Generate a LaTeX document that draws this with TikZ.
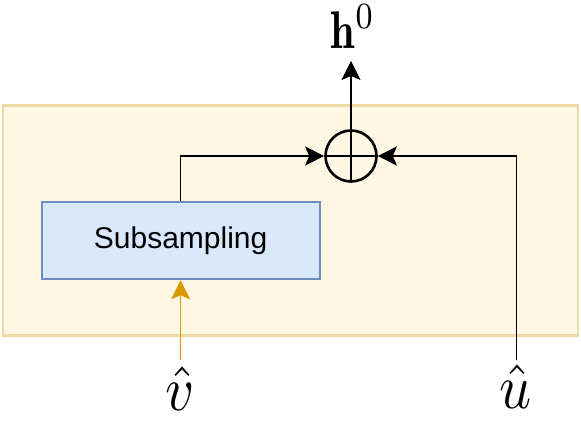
\documentclass[tikz,border=0pt]{standalone}
\usepackage{amsmath}
\usepackage{fontspec}
\newfontfamily\boxfont{Liberation Sans}
\usetikzlibrary{arrows.meta}

\begin{document}
\begin{tikzpicture}[x=1pt,y=-1pt]
				\definecolor{cfo}{rgb}{1.0,0.969,0.894}
				\definecolor{cvo}{rgb}{0.933,0.859,0.643}
				\definecolor{cfs}{rgb}{0.855,0.910,0.988}
				\definecolor{cvs}{rgb}{0.424,0.557,0.749}
				\definecolor{cvv}{rgb}{0.843,0.608,0.0}
				\tikzset{
					tip/.style={-{Stealth[length=19pt,width=19pt,inset=4pt]}},
					mathlabel/.style={inner sep=0pt,anchor=base},
				}
				\useasboundingbox (0,0) rectangle (581,423);
				%
				\node[draw=cvo,fill=cfo,line width=2.2pt,minimum width=575.5pt,minimum height=230pt,inner sep=0pt] (frame) at (290.5,220.5) {};
				\node[draw=cvs,fill=cfs,line width=2pt,minimum width=278pt,minimum height=77.5pt,inner sep=0pt,font=\boxfont\fontsize{30}{36}\selectfont] (sub) at (180.6,240.5) {Subsampling};
				\node[draw,circle,line width=2.6pt,minimum size=51pt,inner sep=0pt] (plus) at (351,156) {};
				\draw[line width=2.3pt] (plus.north) -- (plus.south) (plus.west) -- (plus.east);
				\node[mathlabel] (h0) at (353,48) {\scalebox{4.4}[5.3]{$\mathbf{h}^0$}};
				\node[mathlabel] (vh) at (180.5,410) {\scalebox{5.6}[6.3]{$\hat{v}$}};
				\node[mathlabel] (uh) at (516,408.5) {\scalebox{5.6}[6.3]{$\hat{u}$}};
				\coordinate (vin) at (180.6,360);
				\coordinate (uin) at (516.5,360);
				\coordinate (hout) at (351,61);
				%
				\draw[tip,line width=1.4pt,draw=cvv,fill=cvv] (vin) -- (sub.south);
				\draw[tip,line width=1.3pt] (sub.north) |- (plus.west);
				\draw[tip,line width=1.3pt] (uin) |- (plus.east);
				\draw[tip,line width=1.3pt] (plus.north) -- (hout);
				%
\end{tikzpicture}
\end{document}
